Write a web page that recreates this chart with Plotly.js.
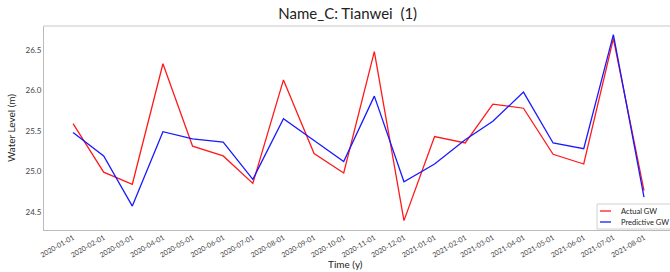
<!DOCTYPE html>
<html>
<head>
<meta charset="utf-8">
<script src="https://cdn.plot.ly/plotly-3.0.1.min.js"></script>
<style>html,body{margin:0;padding:0;background:#fff;}#chart{width:670px;height:272px;}</style>
</head>
<body>
<div id="chart"></div>
<script>
const dates = ["2020-01-01","2020-02-01","2020-03-01","2020-04-01","2020-05-01","2020-06-01","2020-07-01","2020-08-01","2020-09-01","2020-10-01","2020-11-01","2020-12-01","2021-01-01","2021-02-01","2021-03-01","2021-04-01","2021-05-01","2021-06-01","2021-07-01","2021-08-01"];
const actualGW = [25.59,24.99,24.84,26.33,25.31,25.19,24.85,26.13,25.22,24.98,26.48,24.39,25.43,25.35,25.83,25.78,25.21,25.09,26.64,24.76];
const predictiveGW = [25.48,25.19,24.57,25.49,25.40,25.36,24.90,25.65,25.38,25.12,25.93,24.87,25.09,25.39,25.62,25.98,25.35,25.28,26.69,24.68];
const seriesNames = ["Actual GW", "Predictive GW"];
const seriesColors = ["#ff1a1a", "#1a1aff"];
const titleText = "Name_C: Tianwei&nbsp;&nbsp;(1)";
const yTitle = "Water Level (m)";
const xTitle = "Time (y)";

const font = "Lato, 'Open Sans', sans-serif";
const traces = [
  {x: dates, y: actualGW, type: "scatter", mode: "lines", name: seriesNames[0], line: {color: seriesColors[0], width: 1.3}},
  {x: dates, y: predictiveGW, type: "scatter", mode: "lines", name: seriesNames[1], line: {color: seriesColors[1], width: 1.3}}
];

// plot area in pixels: x 44..670, y 26..230
const PL = 44, PW = 626, PT = 26, PH = 204;
const px = v => (v - PL) / PW;
const py = v => (PT + PH - v) / PH;

const shapes = [
  {type: "line", xref: "paper", yref: "paper", x0: 0, x1: 1, y0: 1, y1: 1, line: {color: "#e3e3e3", width: 2}},
  {type: "rect", xref: "paper", yref: "paper", x0: px(597), x1: px(675), y0: py(229), y1: py(204), fillcolor: "#fff", line: {color: "#d0d0d0", width: 1}, layer: "above"}
];
const annotations = [
  {text: xTitle, xref: "paper", yref: "paper", x: px(345), y: py(264), xanchor: "center", yanchor: "middle", showarrow: false, font: {size: 10, color: "#222"}}
];
const legendY = [211, 222];
seriesNames.forEach((n, i) => {
  shapes.push({type: "line", xref: "paper", yref: "paper", x0: px(600), x1: px(611), y0: py(legendY[i]), y1: py(legendY[i]), line: {color: seriesColors[i], width: 1.3}, layer: "above"});
  annotations.push({text: n, xref: "paper", yref: "paper", x: px(619), y: py(legendY[i]), xanchor: "left", yanchor: "middle", showarrow: false, font: {size: 7.5, color: "#222"}});
});

const layout = {
  width: 670, height: 272,
  margin: {l: PL, r: 670 - PL - PW, t: PT, b: 272 - PT - PH},
  paper_bgcolor: "#fff", plot_bgcolor: "#fff",
  font: {family: font, color: "#333"},
  title: {text: titleText, font: {family: font, size: 15, color: "#222"}, x: 0.519, xanchor: "center", y: 0.95, yanchor: "middle"},
  xaxis: {
    type: "date",
    range: ["2019-12-02 14:00", "2021-08-27 08:00"],
    tick0: "2020-01-01", dtick: "M1", tickformat: "%Y-%m-%d",
    tickangle: -30, tickfont: {size: 7, color: "#444"},
    showgrid: false, zeroline: false,
    showline: true, linecolor: "#bbb", linewidth: 1,
    ticks: "", ticklen: 0
  },
  yaxis: {
    range: [24.274, 26.797],
    tickvals: [24.5, 25.0, 25.5, 26.0, 26.5],
    ticktext: ["24.5", "25.0", "25.5", "26.0", "26.5"],
    tickfont: {size: 8, color: "#444"},
    showgrid: false, zeroline: false,
    showline: true, linecolor: "#bbb", linewidth: 1,
    ticks: "", ticklen: 0,
    title: {text: yTitle, font: {size: 10, color: "#222"}, standoff: 8}
  },
  showlegend: false,
  shapes: shapes,
  annotations: annotations
};
Plotly.newPlot("chart", traces, layout, {displayModeBar: false, staticPlot: true});
</script>
</body>
</html>
